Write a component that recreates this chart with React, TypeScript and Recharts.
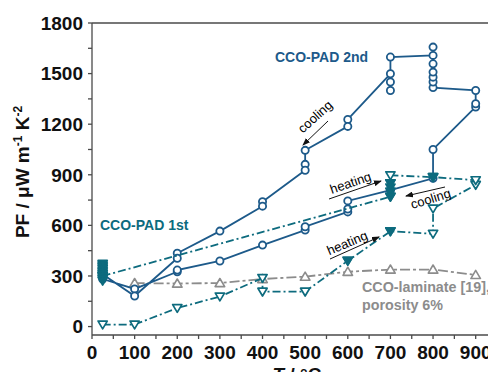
import React from "react"
import { ScatterChart, Scatter, XAxis, YAxis, ReferenceLine } from "recharts"

// CCO-PAD 2nd run, in measuring order (T in °C, PF in µW m-1 K-2)
const pad2Path = [
  { t: 25, pf: 282 }, { t: 100, pf: 223 }, { t: 200, pf: 325 }, { t: 200, pf: 335 },
  { t: 300, pf: 389 }, { t: 400, pf: 483 }, { t: 500, pf: 572 }, { t: 500, pf: 592 },
  { t: 600, pf: 680 }, { t: 600, pf: 697 }, { t: 600, pf: 745 }, { t: 700, pf: 809 },
  { t: 800, pf: 879 }, { t: 800, pf: 1050 }, { t: 900, pf: 1302 }, { t: 900, pf: 1321 },
  { t: 900, pf: 1400 }, { t: 800, pf: 1417 }, { t: 800, pf: 1450 }, { t: 800, pf: 1479 },
  { t: 800, pf: 1509 }, { t: 800, pf: 1558 }, { t: 800, pf: 1657 }, { t: 800, pf: 1608 },
  { t: 700, pf: 1598 }, { t: 700, pf: 1400 }, { t: 700, pf: 1450 }, { t: 700, pf: 1499 },
  { t: 600, pf: 1228 }, { t: 600, pf: 1187 }, { t: 500, pf: 1045 }, { t: 500, pf: 962 },
  { t: 500, pf: 927 }, { t: 400, pf: 740 }, { t: 400, pf: 714 }, { t: 300, pf: 566 },
  { t: 200, pf: 435 }, { t: 200, pf: 405 }, { t: 100, pf: 181 }, { t: 25, pf: 310 },
]

// CCO-PAD 1st run, in measuring order
const pad1Path = [
  { t: 25, pf: 12 }, { t: 100, pf: 12 }, { t: 200, pf: 110 }, { t: 300, pf: 178 },
  { t: 400, pf: 288 }, { t: 400, pf: 207 }, { t: 500, pf: 207 }, { t: 600, pf: 390 },
  { t: 700, pf: 565 }, { t: 800, pf: 550 }, { t: 800, pf: 700 }, { t: 900, pf: 840 },
  { t: 900, pf: 868 }, { t: 800, pf: 886 }, { t: 700, pf: 897 }, { t: 700, pf: 850 },
  { t: 700, pf: 770 }, { t: 25, pf: 300 },
]

// 1st run points drawn with full symbols
const pad1Filled = [
  { t: 25, pf: 272 }, { t: 25, pf: 282 }, { t: 25, pf: 292 }, { t: 25, pf: 302 },
  { t: 25, pf: 312 }, { t: 25, pf: 322 }, { t: 25, pf: 332 }, { t: 25, pf: 342 },
  { t: 25, pf: 352 }, { t: 25, pf: 362 }, { t: 25, pf: 372 },
  { t: 600, pf: 390 }, { t: 700, pf: 565 }, { t: 700, pf: 770 }, { t: 700, pf: 800 },
  { t: 700, pf: 825 }, { t: 700, pf: 850 }, { t: 800, pf: 886 },
]

// CCO-laminate [19], porosity 6%
const laminate = [
  { t: 100, pf: 258 }, { t: 200, pf: 255 }, { t: 300, pf: 258 }, { t: 400, pf: 282 },
  { t: 500, pf: 296 }, { t: 600, pf: 325 }, { t: 700, pf: 338 }, { t: 800, pf: 338 },
  { t: 900, pf: 306 },
]

const xTicks = [0, 50, 100, 150, 200, 250, 300, 350, 400, 450, 500, 550, 600, 650, 700, 750, 800, 850, 900]
const yTicks = [0, 150, 300, 450, 600, 750, 900, 1050, 1200, 1350, 1500, 1650, 1800]

const BLUE = "#1d5a8a"
const TEAL = "#0d6b7e"
const GRAY = "#8c8c8c"
const AXIS = "#4a4a4a"
const FONT = "'Liberation Sans', Arial, sans-serif"

const openCircle = (p: any) => (
  <circle cx={p.cx} cy={p.cy} r={3.6} fill="#fff" stroke={BLUE} strokeWidth={1.8} />
)

const downTri = (color: string, filled: boolean) => (p: any) => {
  const s = 4.6
  const pts = `${p.cx - s},${p.cy - s * 0.75} ${p.cx + s},${p.cy - s * 0.75} ${p.cx},${p.cy + s * 0.95}`
  return <polygon points={pts} fill={filled ? color : "#fff"} stroke={color} strokeWidth={1.7} strokeLinejoin="round" />
}

const upTri = (p: any) => {
  const s = 4.8
  const pts = `${p.cx - s},${p.cy + s * 0.75} ${p.cx + s},${p.cy + s * 0.75} ${p.cx},${p.cy - s * 0.95}`
  return <polygon points={pts} fill="#fff" stroke={GRAY} strokeWidth={1.6} strokeLinejoin="round" />
}

const XTick = (p: any) => {
  const v = p.payload.value
  if (v % 100 !== 0) return null
  return (
    <text x={p.x} y={p.y + 13} textAnchor="middle" fill="#111" fontSize={19} fontWeight="bold" fontFamily={FONT}>
      {String(v)}
    </text>
  )
}

function Arrow({ x1, y1, x2, y2 }: { x1: number; y1: number; x2: number; y2: number }) {
  return <line x1={x1} y1={y1} x2={x2} y2={y2} stroke="#111" strokeWidth={1} markerEnd="url(#head)" />
}

export default function App() {
  return (
    <div style={{ margin: -8, width: 496, height: 380, position: "relative", overflow: "hidden", background: "#fff" }}>
      <ScatterChart width={520} height={380} margin={{ top: 23, right: 23, bottom: 15, left: 0 }}>
        <XAxis
          type="number"
          dataKey="t"
          domain={[0, 950]}
          ticks={xTicks}
          interval={0}
          height={30}
          tickSize={4}
          tickMargin={7}
          stroke={AXIS}
          strokeWidth={1.3}
          tick={<XTick />}
        />
        <YAxis
          type="number"
          dataKey="pf"
          domain={[-50, 1800]}
          ticks={yTicks}
          tickFormatter={(v: number) => (v % 300 === 0 ? String(v) : "")}
          interval={0}
          width={92}
          tickSize={4}
          tickMargin={5}
          stroke={AXIS}
          strokeWidth={1.3}
          tick={{ fill: "#111", fontSize: 19, fontWeight: "bold", fontFamily: FONT }}
        />
        <ReferenceLine y={1800} stroke={AXIS} strokeWidth={1.3} />
        <Scatter
          data={laminate}
          line={{ stroke: GRAY, strokeWidth: 1.8, strokeDasharray: "10 3 3 3" }}
          lineType="joint"
          shape={upTri}
          isAnimationActive={false}
        />
        <Scatter
          data={pad2Path}
          line={{ stroke: BLUE, strokeWidth: 1.8 }}
          lineType="joint"
          shape={openCircle}
          isAnimationActive={false}
        />
        <Scatter
          data={pad1Path}
          line={{ stroke: TEAL, strokeWidth: 1.8, strokeDasharray: "8 3 2 3" }}
          lineType="joint"
          shape={downTri(TEAL, false)}
          isAnimationActive={false}
        />
        <Scatter data={pad1Filled} shape={downTri(TEAL, true)} isAnimationActive={false} />
      </ScatterChart>

      <svg width={496} height={380} style={{ position: "absolute", left: 0, top: 0, pointerEvents: "none" }} fontFamily={FONT}>
        <defs>
          <marker id="head" markerWidth="8" markerHeight="6" refX="7" refY="3" orient="auto" markerUnits="userSpaceOnUse">
            <path d="M0,0 L8,3 L0,6 Z" fill="#111" />
          </marker>
        </defs>

        <text x={275} y={62} fontSize={14} fontWeight="bold" fill={BLUE}>CCO-PAD 2nd</text>
        <text x={100} y={230} fontSize={14} fontWeight="bold" fill={TEAL}>CCO-PAD 1st</text>
        <text x={362} y={292} fontSize={14.3} fontWeight="bold" fill={GRAY}>CCO-laminate [19],</text>
        <text x={362} y={310} fontSize={14.3} fontWeight="bold" fill={GRAY}>porosity 6%</text>

        <Arrow x1={328} y1={121} x2={303} y2={145} />
        <text x={318} y={120} fontSize={13} textAnchor="middle" transform="rotate(-42 318 120)">cooling</text>

        <Arrow x1={329} y1={199} x2={381} y2={181} />
        <text x={352} y={187} fontSize={13} textAnchor="middle" transform="rotate(-19 352 187)">heating</text>

        <Arrow x1={445} y1={187} x2={406} y2={196} />
        <text x={432} y={203} fontSize={13} textAnchor="middle" transform="rotate(-17 432 203)">cooling</text>

        <Arrow x1={330} y1={259} x2={379} y2={237} />
        <text x={349} y={247} fontSize={13} textAnchor="middle" transform="rotate(-23 349 247)">heating</text>

        <text x={29} y={172} fontSize={19} fontWeight="bold" fill="#111" textAnchor="middle" transform="rotate(-90 29 172)">
          PF / μW m<tspan dy={-7} fontSize={12}>-1</tspan>
          <tspan dy={7}> K</tspan>
          <tspan dy={-7} fontSize={12}>-2</tspan>
        </text>
        <text x={297} y={381} fontSize={19} fontWeight="bold" fill="#111" textAnchor="middle">
          <tspan fontStyle="italic">T</tspan> / °C
        </text>
      </svg>
    </div>
  )
}
